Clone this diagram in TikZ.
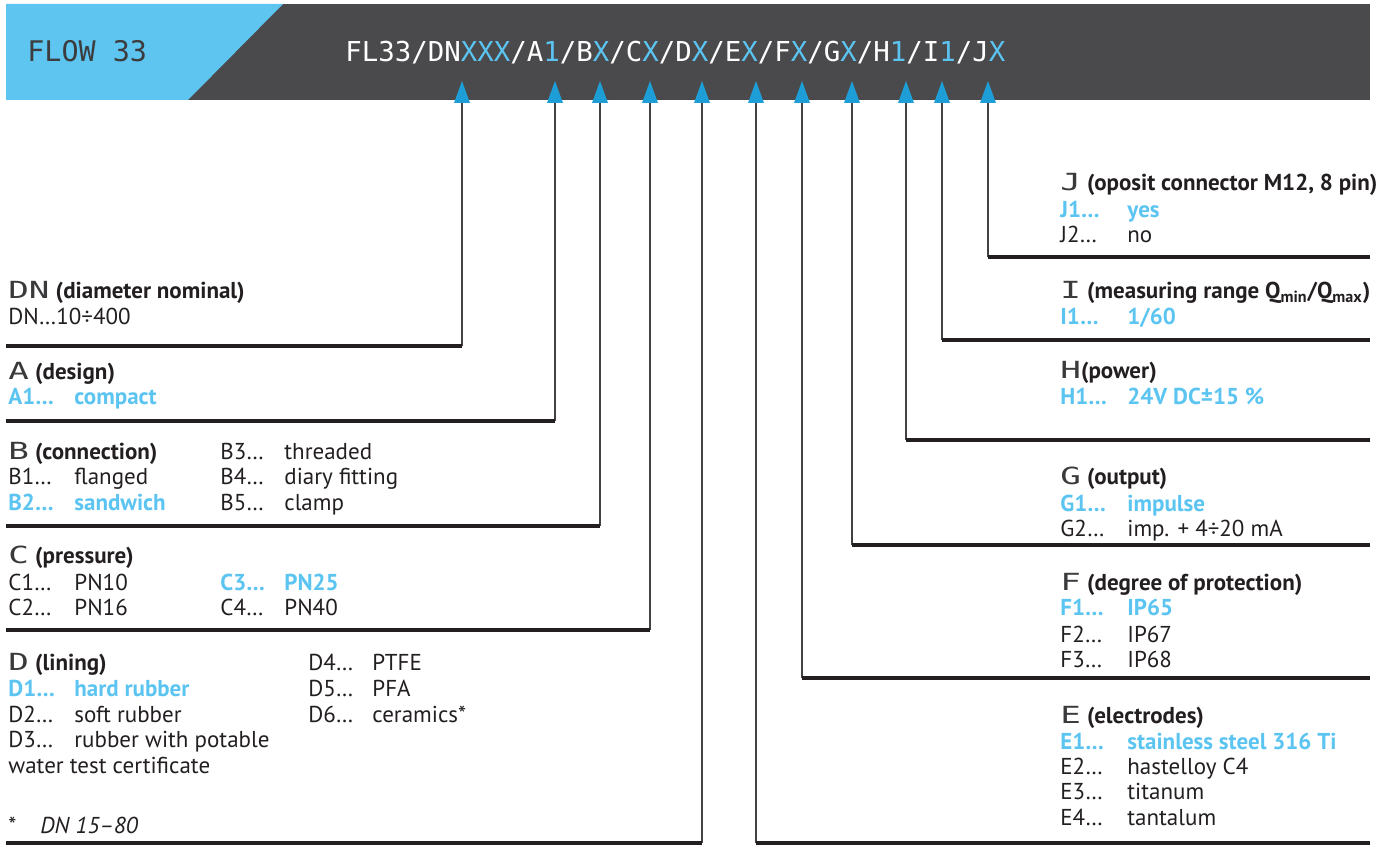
\documentclass[tikz,border=0pt]{standalone}
\usepackage{fontspec}
\setmainfont{PT Sans}
\newfontfamily\dotfont{DejaVu Sans Mono}
\newfontfamily\dotwide[FakeStretch=1.45]{DejaVu Sans Mono}
\definecolor{barblue}{HTML}{5EC5F1}
\definecolor{bargray}{HTML}{4A4A4C}
\definecolor{arrowblue}{HTML}{1E9ED6}
\definecolor{txtblue}{HTML}{5BC4F1}
\definecolor{txtblack}{HTML}{231F20}
\definecolor{flowtxt}{HTML}{3C3C3E}
\definecolor{dotcol}{HTML}{3A3A3C}
\begin{document}
\begin{tikzpicture}[x=0.5pt,y=-0.5pt,
  txt/.style={anchor=base west,inner sep=0pt,font=\fontsize{11.5}{13}\selectfont,text=txtblack},
  bluetxt/.style={txt,text=txtblue,font=\fontsize{11.5}{13}\selectfont\bfseries},
  vline/.style={draw=txtblack!85,line width=0.7pt},
  hline/.style={draw=txtblack,line width=2pt},
  tri/.style={fill=arrowblue}]
\newcommand{\hl}[1]{{\dotwide\fontsize{11.8}{13}\selectfont\color{dotcol}#1}}
\useasboundingbox (0,0) rectangle (1394,845);
% header bar
\fill[bargray] (6,4) rectangle (1370,100);
\fill[barblue] (6,4) -- (283,4) -- (188,100) -- (6,100) -- cycle;
\node[anchor=base west,inner sep=0pt,text=flowtxt,font=\dotfont\fontsize{14.2}{15}\selectfont] (flow) at (27,62) {FLOW 33};
\node[anchor=base west,inner sep=0pt,text=white,font=\dotfont\fontsize{13.7}{15}\selectfont] (code) at (345,62)
 {FL33/DN\textcolor{txtblue}{XXX}/A\textcolor{txtblue}{1}/B\textcolor{txtblue}{X}/C\textcolor{txtblue}{X}/D\textcolor{txtblue}{X}/E\textcolor{txtblue}{X}/F\textcolor{txtblue}{X}/G\textcolor{txtblue}{X}/H\textcolor{txtblue}{1}/I\textcolor{txtblue}{1}/J\textcolor{txtblue}{X}};
% arrows and leader lines
\foreach \n/\x/\y/\e in {DN/462/346/6,A/555/421/6,B/600/526/6,C/650/630/6,D/702/843/6,E/756/843/1370,F/802/678/1370,G/852/545/1370,H/906/440/1370,I/942/340/1370,J/988/257/1370}{
  \coordinate (tip\n) at (\x,81);
  \coordinate (bl\n) at (\x-8,103);
  \coordinate (br\n) at (\x+8,103);
  \coordinate (base\n) at (\x,103);
  \coordinate (knee\n) at (\x,\y);
  \coordinate (end\n) at (\e,\y);
  \fill[tri] (tip\n) -- (br\n) -- (bl\n) -- cycle;
  \draw[vline] (base\n) -- (knee\n);
  \draw[hline] (knee\n) -- (end\n);
}
% DN
\node[txt] (hDN) at (8,299) {\hl{DN} \textbf{(diameter nominal)}};
\node[txt] (dn1) at (8,325) {DN…10÷400};
% A
\node[txt] (hA) at (8,380) {\hl{A} \textbf{(design)}};
\node[bluetxt] (a1) at (8,405) {A1…};
\node[bluetxt] (a1v) at (74,405) {compact};
% B
\node[txt] (hB) at (8,459) {\hl{B} \textbf{(connection)}};
\node[txt] (b1) at (8,485) {B1…};
\node[txt] (b1v) at (74,485) {flanged};
\node[bluetxt] (b2) at (8,510) {B2…};
\node[bluetxt] (b2v) at (74,510) {sandwich};
\node[txt] (b3) at (220,459) {B3…};
\node[txt] (b3v) at (284,459) {threaded};
\node[txt] (b4) at (220,485) {B4…};
\node[txt] (b4v) at (284,485) {diary fitting};
\node[txt] (b5) at (220,510) {B5…};
\node[txt] (b5v) at (284,510) {clamp};
% C
\node[txt] (hC) at (8,564) {\hl{C} \textbf{(pressure)}};
\node[txt] (c1) at (8,590) {C1…};
\node[txt] (c1v) at (74,590) {PN10};
\node[txt] (c2) at (8,615) {C2…};
\node[txt] (c2v) at (74,615) {PN16};
\node[bluetxt] (c3) at (220,590) {C3…};
\node[bluetxt] (c3v) at (284,590) {PN25};
\node[txt] (c4) at (220,615) {C4…};
\node[txt] (c4v) at (284,615) {PN40};
% D
\node[txt] (hD) at (8,670) {\hl{D} \textbf{(lining)}};
\node[bluetxt] (d1) at (8,696) {D1…};
\node[bluetxt] (d1v) at (74,696) {hard rubber};
\node[txt] (d2) at (8,722) {D2…};
\node[txt] (d2v) at (74,722) {soft rubber};
\node[txt] (d3) at (8,747) {D3…};
\node[txt] (d3v) at (74,747) {rubber with potable};
\node[txt] (d3w) at (8,773) {water test certificate};
\node[txt] (d4) at (308,670) {D4…};
\node[txt] (d4v) at (372,670) {PTFE};
\node[txt] (d5) at (308,696) {D5…};
\node[txt] (d5v) at (372,696) {PFA};
\node[txt] (d6) at (308,722) {D6…};
\node[txt] (d6v) at (372,722) {ceramics*};
\node[txt] (star) at (8,833) {*};
\node[txt] (note) at (40,833) {\itshape DN 15–80};
% J
\node[txt] (hJ) at (1060,191) {\hl{J} \textbf{(oposit connector M12, 8 pin)}};
\node[bluetxt] (j1) at (1060,218) {J1…};
\node[bluetxt] (j1v) at (1127,218) {yes};
\node[txt] (j2) at (1060,243) {J2…};
\node[txt] (j2v) at (1127,243) {no};
% I
\node[txt] (hI) at (1060,299) {\hl{I} \textbf{(measuring range Q\textsubscript{min}/Q\textsubscript{max})}};
\node[bluetxt] (i1) at (1060,325) {I1…};
\node[bluetxt] (i1v) at (1127,325) {1/60};
% H
\node[txt] (hH) at (1060,379) {\hl{H}\textbf{(power)}};
\node[bluetxt] (h1) at (1060,405) {H1…};
\node[bluetxt] (h1v) at (1127,405) {24V DC±15 \%};
% G
\node[txt] (hG) at (1060,485) {\hl{G} \textbf{(output)}};
\node[bluetxt] (g1) at (1060,511) {G1…};
\node[bluetxt] (g1v) at (1127,511) {impulse};
\node[txt] (g2) at (1060,537) {G2…};
\node[txt] (g2v) at (1127,537) {imp. + 4÷20 mA};
% F
\node[txt] (hF) at (1060,590) {\hl{F} \textbf{(degree of protection)}};
\node[bluetxt] (f1) at (1060,616) {F1…};
\node[bluetxt] (f1v) at (1127,616) {IP65};
\node[txt] (f2) at (1060,642) {F2…};
\node[txt] (f2v) at (1127,642) {IP67};
\node[txt] (f3) at (1060,667) {F3…};
\node[txt] (f3v) at (1127,667) {IP68};
% E
\node[txt] (hE) at (1060,723) {\hl{E} \textbf{(electrodes)}};
\node[bluetxt] (e1) at (1060,749) {E1…};
\node[bluetxt] (e1v) at (1127,749) {stainless steel 316 Ti};
\node[txt] (e2) at (1060,774) {E2…};
\node[txt] (e2v) at (1127,774) {hastelloy C4};
\node[txt] (e3) at (1060,799) {E3…};
\node[txt] (e3v) at (1127,799) {titanum};
\node[txt] (e4) at (1060,825) {E4…};
\node[txt] (e4v) at (1127,825) {tantalum};
\end{tikzpicture}
\end{document}
